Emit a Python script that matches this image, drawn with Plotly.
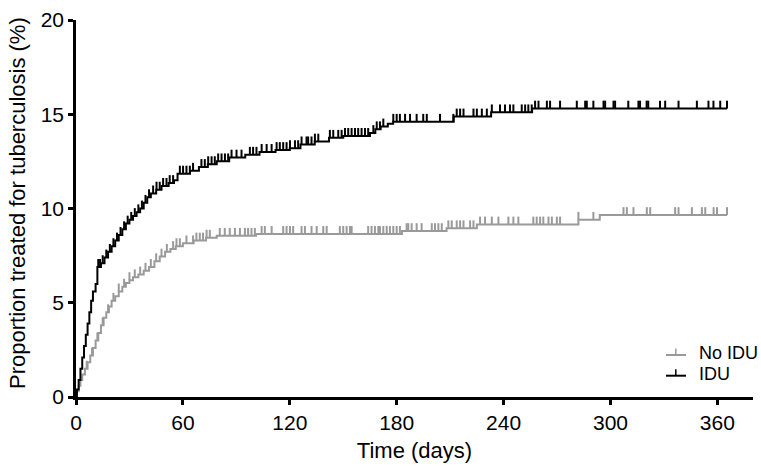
import numpy as np
import plotly.graph_objects as go

# ---- data ----
# IDU: event times (days) and cumulative proportion (%) after each step
idu_t = [0.5, 1.5, 2.5, 3.5, 4.5, 5.5, 6.5, 7.5, 8.5, 9.5, 11, 12, 14, 16, 18, 20, 22, 24,
         26, 28, 30, 32, 34, 36, 38, 40, 42, 45, 48, 52, 55, 57, 64, 69, 74, 79, 86, 95,
         103, 112, 120, 126, 134, 142, 150, 165, 168, 171, 175, 178, 212, 233, 256]
idu_v = [0.4, 0.9, 1.5, 2.1, 2.7, 3.3, 3.9, 4.5, 5.1, 5.6, 6.0, 6.9, 7.1, 7.4, 7.7, 8.0, 8.3, 8.6,
         8.9, 9.2, 9.4, 9.6, 9.8, 10.0, 10.3, 10.6, 10.8, 11.0, 11.2, 11.35, 11.5, 11.85, 12.0, 12.2,
         12.35, 12.5, 12.7, 12.85, 13.0, 13.1, 13.2, 13.4, 13.55, 13.75, 13.85, 14.0, 14.2, 14.35,
         14.5, 14.6, 14.88, 15.1, 15.3]
idu_cens = [12.5, 13.5, 15, 17, 19, 21, 23, 25, 27, 29, 31, 33, 35, 37, 39, 41,
            43.3, 45.2, 47.0, 48.9, 50.8, 52.6, 54.5, 58.3, 60.1, 62.0, 63.9, 65.7, 70.4, 72.3,
            74.2, 76.1, 77.9, 79.8, 81.7, 83.6, 85.4, 87.3, 90.1, 92.9, 97.6, 99.4, 101.3, 104.2,
            107.0, 109.8, 112.6, 114.4, 116.3, 118.2, 120.1, 122.9, 124.7, 126.6, 129.4, 130.3,
            132.2, 134.1, 136.0, 142.5, 144.4, 147.2, 149.1, 151.0, 152.8, 154.7, 156.6, 158.4,
            160.3, 162.2, 164.0, 166.9, 168.8, 170.6, 172.5, 178.1, 180.0, 181.8, 184.7, 187.5,
            191.2, 194.9, 196.9, 204.3, 211.8, 213.7, 215.6, 217.5, 223.1, 225.0, 227.8, 230.6,
            233.4, 238.0, 240.8, 243.6, 245.5, 250.2, 252.1, 253.9, 255.8, 257.7, 259.6, 264.3,
            266.1, 271.7, 281.1, 285.8, 286.7, 290.4, 296.1, 297.0, 301.7, 302.6, 310.0, 315.7,
            316.6, 320.3, 321.2, 327.8, 330.7, 338.2, 348.5, 355.0, 357.8, 361.6, 365.4]

# No IDU
noidu_t = [0.5, 1.5, 2.5, 3.5, 5, 6.5, 8, 9.5, 11, 12.5, 14, 15.5, 17, 18.5, 20, 22, 24, 26,
           28, 30, 32, 35, 38, 41, 44, 47, 50, 53, 56, 60, 66, 73, 79, 101, 183, 208, 225, 282, 294]
noidu_v = [0.3, 0.6, 0.9, 1.2, 1.5, 1.85, 2.2, 2.6, 3.0, 3.4, 3.8, 4.2, 4.5, 4.8, 5.1, 5.35, 5.6,
           5.85, 6.05, 6.2, 6.35, 6.5, 6.7, 6.9, 7.2, 7.45, 7.7, 7.85, 8.0, 8.15, 8.3, 8.45, 8.55,
           8.65, 8.8, 8.95, 9.15, 9.4, 9.65]
noidu_cens = [6, 9, 12, 15, 18, 21, 24, 27, 30, 33, 36, 39, 42, 45, 48, 51,
              54.5, 56.4, 58.3, 62.0, 65.7, 67.6, 69.5, 71.3, 73.3, 75.1, 80.7, 83.5, 86.3, 89.2,
              92.0, 94.8, 96.6, 98.5, 100.4, 104.2, 106.0, 109.8, 116.3, 118.2, 120.1, 121.9,
              126.6, 128.5, 132.2, 135.1, 138.8, 140.7, 148.1, 150.0, 151.9, 153.8, 154.7, 164.0,
              165.9, 167.8, 169.7, 170.6, 172.5, 174.4, 176.2, 178.1, 180.0, 181.8, 185.6, 186.5,
              188.4, 191.2, 194.0, 199.7, 201.5, 203.4, 205.3, 209.0, 210.9, 213.7, 215.6, 217.5,
              221.2, 223.1, 226.8, 229.6, 233.4, 237.1, 242.7, 245.5, 248.3, 256.7, 258.6, 260.5,
              262.3, 265.2, 267.1, 269.9, 271.7, 282.0, 290.4, 307.3, 309.2, 312.9, 320.4, 322.3,
              336.3, 338.2, 345.7, 351.3, 353.2, 357.9, 359.8, 365.4]

end_day = 365.4
x_ticks = [0, 60, 120, 180, 240, 300, 360]
y_ticks = [0, 5, 10, 15, 20]

BLACK = "#000000"
GRAY = "#9a9a9a"
TICK_H = 0.42  # height of censor marks in % units


def step_xy(t, v):
    xs = [0] + list(t) + [end_day]
    ys = [0] + list(v) + [v[-1]]
    return xs, ys


def censor_xy(t, v, cens):
    t = np.asarray(t)
    v = np.asarray(v)
    xs, ys = [], []
    for c in cens:
        i = np.searchsorted(t, c, side="right") - 1
        val = 0.0 if i < 0 else float(v[i])
        xs += [c, c, None]
        ys += [val, val + TICK_H, None]
    return xs, ys


fig = go.Figure()

for t, v, cens, col in [(noidu_t, noidu_v, noidu_cens, GRAY), (idu_t, idu_v, idu_cens, BLACK)]:
    sx, sy = step_xy(t, v)
    fig.add_trace(go.Scatter(x=sx, y=sy, mode="lines", line=dict(color=col, width=2, shape="hv"),
                             showlegend=False, hoverinfo="skip", cliponaxis=False))
    cx, cy = censor_xy(t, v, cens)
    fig.add_trace(go.Scatter(x=cx, y=cy, mode="lines", line=dict(color=col, width=2),
                             showlegend=False, hoverinfo="skip"))

FONT = "Liberation Sans, Arial, sans-serif"

# manual legend (⊥ symbols)
legend_items = [("No IDU", GRAY, 0.1114), ("IDU", BLACK, 0.0565)]
for name, col, yy in legend_items:
    fig.add_shape(type="line", xref="paper", yref="paper", x0=0.8715, x1=0.901, y0=yy, y1=yy,
                  line=dict(color=col, width=2))
    fig.add_shape(type="line", xref="paper", yref="paper", x0=0.886, x1=0.886, y0=yy, y1=yy + 0.017,
                  line=dict(color=col, width=1.5))
    fig.add_annotation(text=name, xref="paper", yref="paper", x=0.918, y=yy + 0.005,
                       xanchor="left", yanchor="middle", showarrow=False,
                       font=dict(family=FONT, size=18, color="#000"))

title_font = dict(family=FONT, size=22, color="#000")
tick_font = dict(family=FONT, size=21, color="#000")

# y-axis title as annotation for precise placement
fig.add_annotation(text="Proportion treated for tuberculosis (%)", xref="paper", yref="paper",
                   x=-0.0855, y=0.515, xanchor="center", yanchor="middle", textangle=-90,
                   showarrow=False, font=title_font)

fig.update_layout(
    width=761, height=470,
    margin=dict(l=76, r=8, t=20, b=73),
    paper_bgcolor="white", plot_bgcolor="white",
    font=tick_font,
    xaxis=dict(range=[0, 380], tickvals=x_ticks, ticktext=[str(x) for x in x_ticks],
               showline=True, linecolor="black", linewidth=2.5, ticks="outside", ticklen=5,
               tickwidth=2.5, tickcolor="black", showgrid=False, zeroline=False, automargin=False,
               title=dict(text="Time (days)", font=title_font, standoff=10), tickfont=tick_font),
    yaxis=dict(range=[0, 20], tickvals=y_ticks, ticktext=[str(y) for y in y_ticks],
               showline=True, linecolor="black", linewidth=2.5, ticks="outside", ticklen=5,
               tickwidth=2.5, tickcolor="black", showgrid=False, zeroline=False, automargin=False,
               tickfont=tick_font),
)

# remove the default 8px body margin so the figure sits at the window origin
fig.write_html("out.html", config={"displayModeBar": False},
               post_script="document.body.style.margin='0';")
